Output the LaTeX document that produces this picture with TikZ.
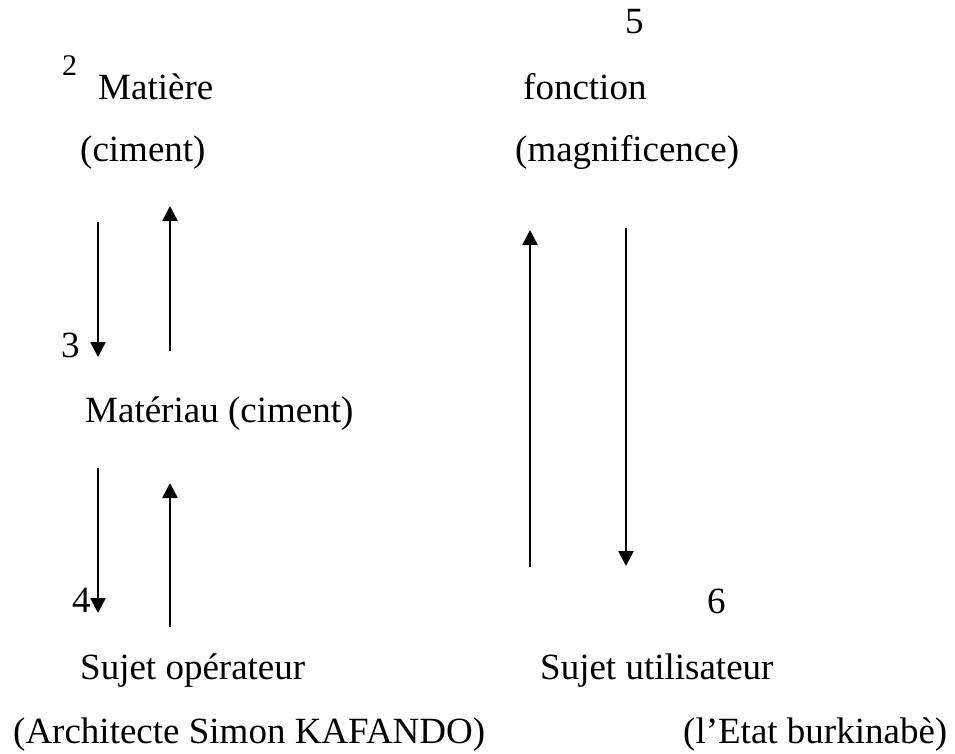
\documentclass[tikz,border=0pt]{standalone}
\usepackage{fontspec}
\setmainfont{Liberation Serif}
\usetikzlibrary{arrows.meta}
\tikzset{
    tnode/.style = {anchor=base west, inner sep=0pt, font=\fontsize{37}{44}\selectfont},
    num/.style = {tnode},
    snum/.style = {tnode, font=\fontsize{30}{36}\selectfont},
    flow/.style = {line width=2.5pt, -{Triangle[length=15pt,width=15pt]}}
}
\begin{document}
\begin{tikzpicture}[x=1pt,y=-1pt]
    \useasboundingbox (0,0) rectangle (955,753);
    % left column
    \node [snum] (n2) at (62,75) {2};
    \node [tnode] (matiere) at (98,99) {Matière};
    \node [tnode] (ciment) at (80,161) {(ciment)};
    \node [num] (n3) at (61,357) {3};
    \node [tnode] (materiau) at (85,422) {Matériau (ciment)};
    \node [num] (n4) at (72,612) {4};
    \node [tnode] (operateur) at (80,679) {Sujet opérateur};
    \node [tnode] (architecte) at (13,743) {(Architecte Simon KAFANDO)};
    % right column
    \node [num] (n5) at (625,33) {5};
    \node [tnode] (fonction) at (523,99) {fonction};
    \node [tnode] (magnif) at (515,161) {(magnificence)};
    \node [num] (n6) at (707,613) {6};
    \node [tnode] (utilisateur) at (540,679) {Sujet utilisateur};
    \node [tnode] (etat) at (683,743) {(l’Etat burkinabè)};
    % arrow ends
    \coordinate (a1s) at (98,222);  \coordinate (a1e) at (98,357);
    \coordinate (a2s) at (170,351); \coordinate (a2e) at (170,206);
    \coordinate (a3s) at (98,468);  \coordinate (a3e) at (98,613);
    \coordinate (a4s) at (170,627); \coordinate (a4e) at (170,483);
    \coordinate (a5s) at (530,567); \coordinate (a5e) at (530,230);
    \coordinate (a6s) at (626,228); \coordinate (a6e) at (626,566);
    \draw [flow] (a1s) -- (a1e);
    \draw [flow] (a2s) -- (a2e);
    \draw [flow] (a3s) -- (a3e);
    \draw [flow] (a4s) -- (a4e);
    \draw [flow] (a5s) -- (a5e);
    \draw [flow] (a6s) -- (a6e);
\end{tikzpicture}
\end{document}
